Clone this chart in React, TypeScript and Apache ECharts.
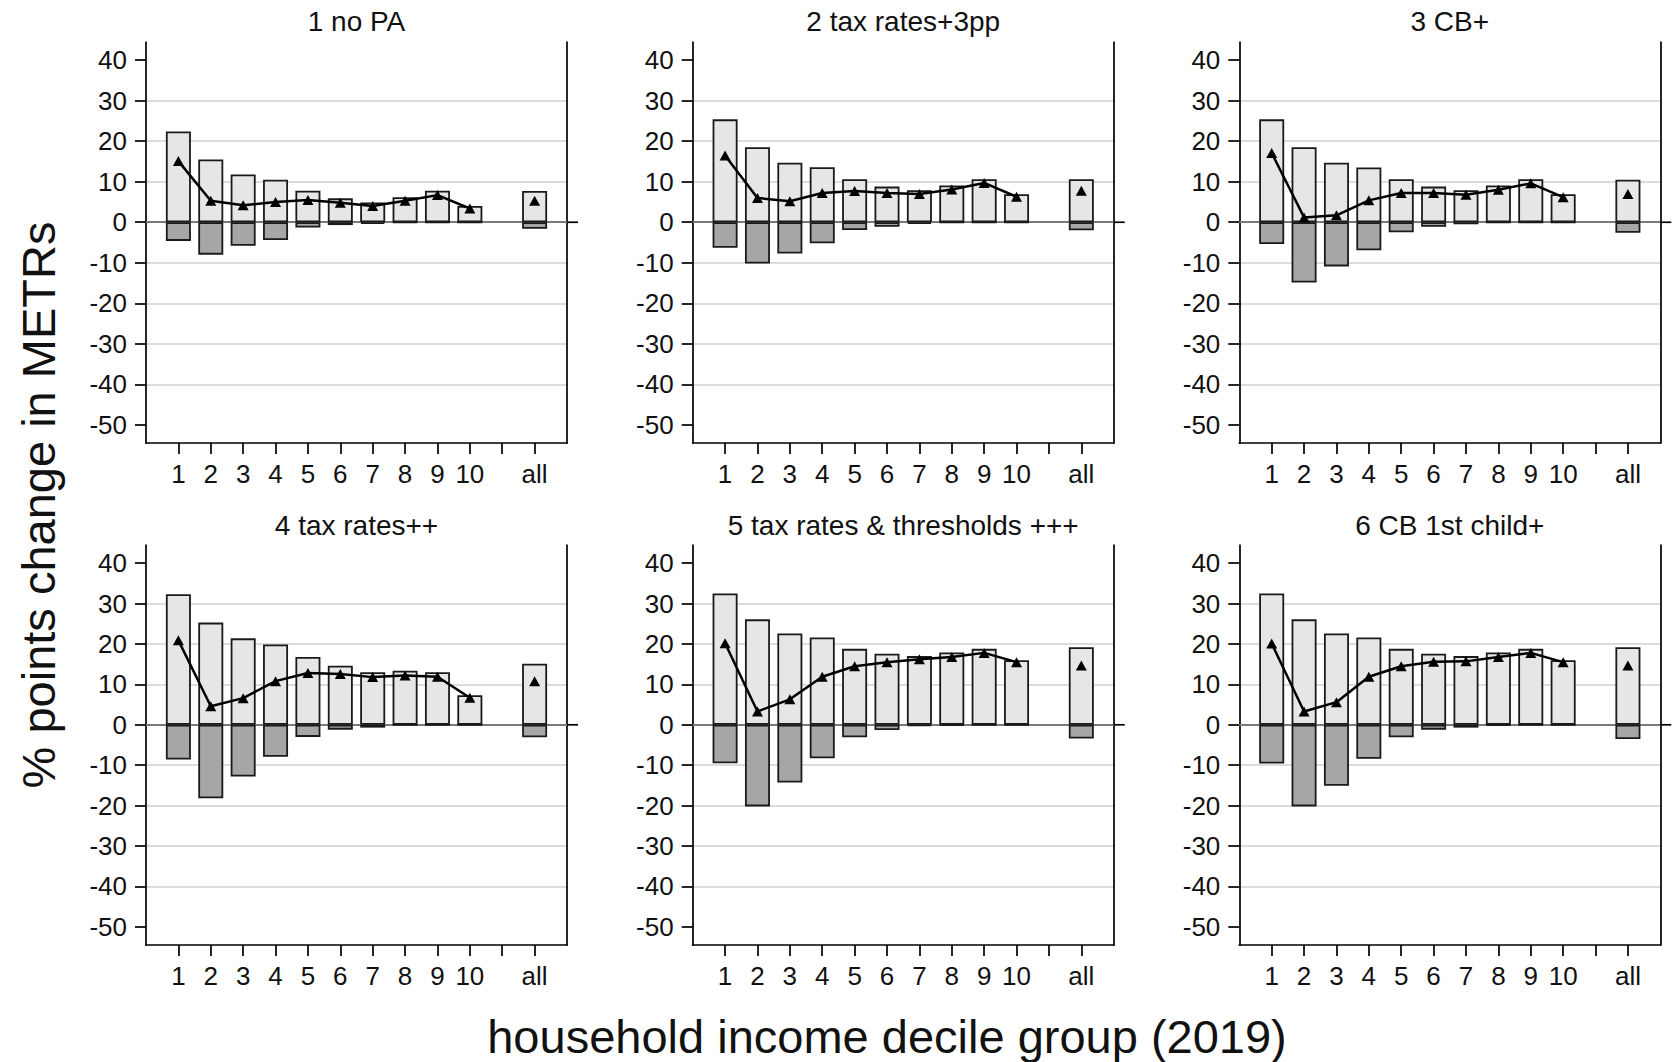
import React, { useEffect, useRef } from "react";
import * as echarts from "echarts";

// ---------- data ----------
const deciles = ["1", "2", "3", "4", "5", "6", "7", "8", "9", "10"];
const allLabel = "all";
const yTicks = [-50, -40, -30, -20, -10, 0, 10, 20, 30, 40];

const panelTitles = [
  "1 no PA",
  "2 tax rates+3pp",
  "3 CB+",
  "4 tax rates++",
  "5 tax rates & thresholds +++",
  "6 CB 1st child+",
];

// each array: deciles 1..10, then "all"
const p1Up = [22.4, 15.5, 11.8, 10.5, 7.8, 5.9, 4.9, 6.2, 7.8, 4.0, 7.7];
const p1Down = [-4.6, -8.0, -5.8, -4.4, -1.3, -0.7, -0.4, -0.1, 0, 0, -1.6];
const p1Avg = [15.1, 5.3, 4.2, 5.0, 5.5, 4.8, 4.0, 5.3, 6.7, 3.4, 5.3];

const p2Up = [25.4, 18.5, 14.7, 13.6, 10.6, 8.8, 7.9, 9.1, 10.6, 6.9, 10.6];
const p2Down = [-6.3, -10.2, -7.7, -5.2, -1.9, -1.1, -0.4, 0, 0, 0, -2.0];
const p2Avg = [16.5, 6.0, 5.2, 7.2, 7.7, 7.2, 7.0, 8.1, 9.7, 6.3, 7.8];

const p3Up = [25.4, 18.5, 14.7, 13.5, 10.6, 8.8, 7.9, 9.1, 10.6, 6.9, 10.5];
const p3Down = [-5.4, -14.9, -10.9, -6.9, -2.5, -1.1, -0.5, 0, 0, 0, -2.6];
const p3Avg = [17.1, 1.2, 1.7, 5.4, 7.2, 7.2, 6.8, 8.0, 9.6, 6.2, 7.0];

const p4Up = [32.3, 25.3, 21.4, 19.9, 16.8, 14.6, 13.0, 13.4, 13.0, 7.3, 15.1];
const p4Down = [-8.6, -18.2, -12.8, -7.9, -3.0, -1.2, -0.7, 0, 0, 0, -3.1];
const p4Avg = [20.9, 4.6, 6.6, 10.8, 12.8, 12.6, 11.8, 12.2, 11.9, 6.7, 10.8];

const p5Up = [32.5, 26.1, 22.6, 21.6, 18.8, 17.6, 17.0, 17.9, 18.8, 16.0, 19.2];
const p5Down = [-9.5, -20.2, -14.3, -8.3, -3.1, -1.3, -0.3, -0.2, 0, 0, -3.4];
const p5Avg = [20.2, 3.3, 6.3, 11.9, 14.5, 15.5, 16.2, 16.8, 17.8, 15.5, 14.7];

const p6Up = [32.5, 26.1, 22.6, 21.6, 18.8, 17.6, 17.0, 17.9, 18.8, 16.0, 19.2];
const p6Down = [-9.6, -20.2, -15.1, -8.4, -3.1, -1.2, -0.7, -0.2, 0, 0, -3.5];
const p6Avg = [20.1, 3.3, 5.6, 11.9, 14.5, 15.6, 15.7, 16.8, 17.8, 15.5, 14.7];

const upSets = [p1Up, p2Up, p3Up, p4Up, p5Up, p6Up];
const downSets = [p1Down, p2Down, p3Down, p4Down, p5Down, p6Down];
const avgSets = [p1Avg, p2Avg, p3Avg, p4Avg, p5Avg, p6Avg];

const yTitle = "% points change in METRs";
const xTitle = "household income decile group (2019)";

// ---------- layout / style ----------
const FONT = "'Liberation Sans', Arial, Helvetica, sans-serif";
const W = 1677;
const H = 1062;
const gridLefts = [146, 692.7, 1239.3];
const gridTops = [42, 545];
const gridHeights = [401, 400];
const gridW = 421;
const Y_MIN = -54.5;
const Y_MAX = 44.5;
const TXT = "#111";

// category slots: '', 1..10, '', all, ''
const cats = ["", ...deciles, "", allLabel, ""];
const toSlots = (arr: number[]) => [null, ...arr.slice(0, 10), null, arr[10], null];

export default function App() {
  const ref = useRef<HTMLDivElement>(null);

  useEffect(() => {
    if (!ref.current) return;
    const chart = echarts.init(ref.current, undefined, { renderer: "svg" });

    const grids: any[] = [];
    const xAxes: any[] = [];
    const yAxes: any[] = [];
    const series: any[] = [];
    const graphics: any[] = [];

    for (let i = 0; i < 6; i++) {
      const row = Math.floor(i / 3);
      const col = i % 3;
      const left = gridLefts[col];
      const top = gridTops[row];
      const h = gridHeights[row];
      grids.push({ left, top, width: gridW, height: h, containLabel: false });

      xAxes.push({
        type: "category",
        gridIndex: i,
        data: cats,
        boundaryGap: false,
        position: "bottom",
        axisLine: { show: true, onZero: false, lineStyle: { color: "#000", width: 1.7 } },
        axisTick: {
          show: true,
          length: 11,
          interval: (idx: number) => idx >= 1 && idx <= 12,
          lineStyle: { color: "#000", width: 1.7 },
        },
        axisLabel: {
          interval: 0,
          margin: 18,
          fontSize: 26,
          fontFamily: FONT,
          color: TXT,
        },
        splitLine: { show: false },
      });

      yAxes.push({
        type: "value",
        gridIndex: i,
        min: Y_MIN,
        max: Y_MAX,
        position: "left",
        splitNumber: 10,
        axisLine: { show: true, onZero: false, lineStyle: { color: "#000", width: 1.7 } },
        axisTick: {
          show: true,
          length: 11,
          customValues: yTicks,
          lineStyle: { color: "#000", width: 1.7 },
        },
        axisLabel: {
          customValues: yTicks,
          margin: 19,
          fontSize: 26,
          fontFamily: FONT,
          color: TXT,
          formatter: (v: number) => (Math.abs(v % 10) < 1e-6 ? String(v) : ""),
        },
        splitLine: {
          show: true,
          showMinLine: false,
          showMaxLine: false,
          lineStyle: { color: "#d0d0d0", width: 1.5 },
        },
      });
      yAxes.push({
        type: "value",
        gridIndex: i,
        min: Y_MIN,
        max: Y_MAX,
        position: "right",
        axisLine: { show: true, onZero: false, lineStyle: { color: "#000", width: 1.7 } },
        axisTick: { show: false },
        axisLabel: { show: false },
        splitLine: { show: false },
      });

      series.push({
        type: "bar",
        xAxisIndex: i,
        yAxisIndex: 2 * i,
        data: toSlots(upSets[i]),
        barWidth: 25,
        barGap: "-100%",
        z: 6,
        itemStyle: { color: "#e6e6e6", borderColor: "#1a1a1a", borderWidth: 1.8 },
        markLine: {
          silent: true,
          symbol: "none",
          z: 3,
          label: { show: false },
          lineStyle: { color: "#7a7a7a", width: 2, type: "solid" },
          data: [{ yAxis: 0 }],
        },
      });
      series.push({
        type: "bar",
        xAxisIndex: i,
        yAxisIndex: 2 * i,
        data: toSlots(downSets[i]),
        barWidth: 25,
        barGap: "-100%",
        z: 6,
        itemStyle: { color: "#a6a6a6", borderColor: "#1a1a1a", borderWidth: 1.8 },
      });
      series.push({
        type: "line",
        xAxisIndex: i,
        yAxisIndex: 2 * i,
        data: toSlots(avgSets[i]),
        connectNulls: false,
        showSymbol: true,
        showAllSymbol: true,
        symbol: "triangle",
        symbolSize: [11, 10],
        z: 8,
        itemStyle: { color: "#000" },
        lineStyle: { color: "#000", width: 2.5 },
      });

      graphics.push({
        type: "text",
        x: left + gridW / 2,
        y: row === 0 ? 21 : 525,
        style: {
          text: panelTitles[i],
          align: "center",
          verticalAlign: "middle",
          fontSize: 28,
          fontFamily: FONT,
          fill: TXT,
        },
      });
    }

    graphics.push({
      type: "text",
      x: 887,
      y: 1036,
      style: {
        text: xTitle,
        align: "center",
        verticalAlign: "middle",
        fontSize: 47,
        fontFamily: FONT,
        fill: TXT,
      },
    });
    graphics.push({
      type: "text",
      x: 38,
      y: 505,
      rotation: Math.PI / 2,
      style: {
        text: yTitle,
        align: "center",
        verticalAlign: "middle",
        fontSize: 47,
        fontFamily: FONT,
        fill: TXT,
      },
    });

    chart.setOption({
      animation: false,
      backgroundColor: "#fff",
      grid: grids,
      xAxis: xAxes,
      yAxis: yAxes,
      series,
      graphic: graphics,
    });

    // small outward tick at 0 on the right frame of each panel
    const ticks: any[] = [];
    for (let i = 0; i < 6; i++) {
      const col = i % 3;
      const yPix = chart.convertToPixel({ yAxisIndex: 2 * i }, 0) as number;
      const xr = gridLefts[col] + gridW;
      ticks.push({
        type: "line",
        id: "zt" + i,
        shape: { x1: xr, y1: yPix, x2: xr + 11, y2: yPix },
        style: { stroke: "#000", lineWidth: 1.7 },
        z: 10,
      });
    }
    chart.setOption({ graphic: ticks });

    return () => chart.dispose();
  }, []);

  return (
    <div
      ref={ref}
      style={{ position: "absolute", left: 0, top: 0, width: W, height: H, background: "#fff" }}
    />
  );
}
